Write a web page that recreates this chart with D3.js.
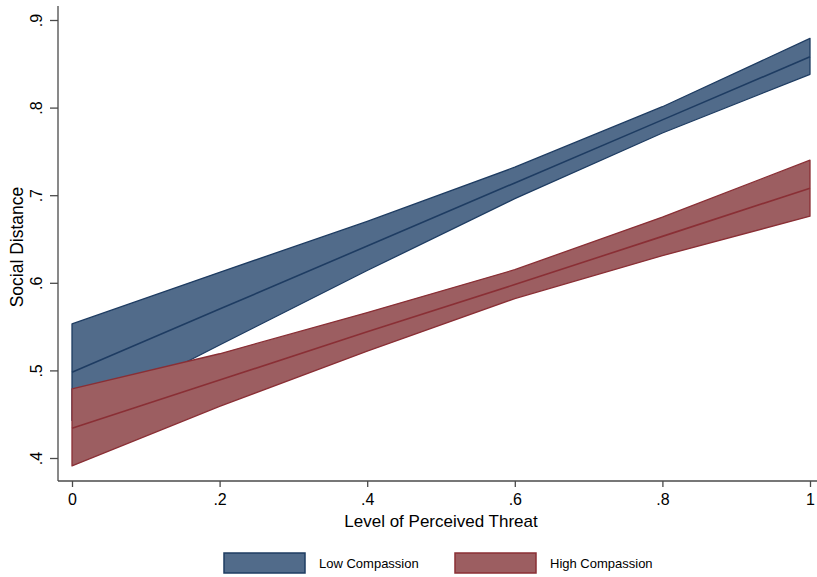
<!DOCTYPE html>
<html>
<head>
<meta charset="utf-8">
<script src="https://cdn.jsdelivr.net/npm/d3@7"></script>
<style>
  html, body { margin: 0; padding: 0; background: #fff; }
  svg { display: block; font-family: "Liberation Sans", Arial, Helvetica, sans-serif; }
</style>
</head>
<body>
<svg id="chart" width="817" height="577"></svg>
<script>
// Predictive margins of social distance by perceived threat
const threat = [0, 0.2, 0.4, 0.6, 0.8, 1];

const lowMean  = [0.498, 0.570, 0.642, 0.714, 0.786, 0.858];
const lowUpper = [0.553, 0.612, 0.670, 0.732, 0.801, 0.879];
const lowLower = [0.443, 0.529, 0.614, 0.696, 0.771, 0.838];

const highMean  = [0.434, 0.489, 0.544, 0.598, 0.653, 0.708];
const highUpper = [0.479, 0.519, 0.566, 0.615, 0.675, 0.740];
const highLower = [0.391, 0.459, 0.522, 0.582, 0.631, 0.676];

const xTicks = [0, 0.2, 0.4, 0.6, 0.8, 1];
const yTicks = [0.4, 0.5, 0.6, 0.7, 0.8, 0.9];

const seriesNames = ["Low Compassion", "High Compassion"];

const styles = [
  { fill: "#516b8a", stroke: "#1e3c62" },
  { fill: "#9c5e61", stroke: "#8a2f35" }
];

const svg = d3.select("#chart");

const x = d3.scaleLinear().domain([0, 1]).range([72, 810]);
const y = d3.scaleLinear().domain([0.4, 0.9]).range([458, 20]);

// plot region edges
const plotLeft = 58, plotRight = 817, plotTop = 6, plotBottom = 481;

const fmt = d => d === 0 ? "0" : d === 1 ? "1" : d3.format(".1f")(d).replace(/^0/, "");

const series = [
  { name: seriesNames[0], mean: lowMean, upper: lowUpper, lower: lowLower, style: styles[0] },
  { name: seriesNames[1], mean: highMean, upper: highUpper, lower: highLower, style: styles[1] }
];

const area = d3.area()
  .x(d => x(d.t))
  .y0(d => y(d.lo))
  .y1(d => y(d.hi));

const line = d3.line()
  .x(d => x(d.t))
  .y(d => y(d.m));

const g = svg.append("g");

series.forEach(s => {
  s.pts = threat.map((t, i) => ({ t, lo: s.lower[i], hi: s.upper[i], m: s.mean[i] }));
  g.append("path")
    .datum(s.pts)
    .attr("d", area)
    .attr("fill", s.style.fill)
    .attr("stroke", s.style.stroke)
    .attr("stroke-width", 1.3)
    .attr("stroke-linejoin", "round");
});

series.forEach(s => {
  g.append("path")
    .datum(s.pts)
    .attr("d", line)
    .attr("fill", "none")
    .attr("stroke", s.style.stroke)
    .attr("stroke-width", 1.6);
});

// axes
const axisColor = "#4a4a4a";

const xAxis = svg.append("g")
  .attr("transform", `translate(0,${plotBottom})`)
  .call(d3.axisBottom(x).tickValues(xTicks).tickFormat(fmt).tickSize(6).tickSizeOuter(0));
xAxis.select(".domain").remove();
xAxis.append("line").attr("x1", plotLeft).attr("x2", plotRight).attr("stroke", axisColor).attr("stroke-width", 1.3);
xAxis.selectAll(".tick line").attr("stroke", axisColor).attr("stroke-width", 1.3);
xAxis.selectAll(".tick text")
  .attr("fill", "#000")
  .attr("font-size", 16)
  .attr("font-family", "Liberation Sans, Arial, sans-serif")
  .attr("dy", "0.95em");

const yAxis = svg.append("g")
  .attr("transform", `translate(${plotLeft},0)`)
  .call(d3.axisLeft(y).tickValues(yTicks).tickFormat(fmt).tickSize(8).tickSizeOuter(0));
yAxis.select(".domain").remove();
yAxis.append("line").attr("y1", plotTop).attr("y2", plotBottom).attr("stroke", axisColor).attr("stroke-width", 1.3);
yAxis.selectAll(".tick line").attr("stroke", axisColor).attr("stroke-width", 1.3);
yAxis.selectAll(".tick text")
  .attr("fill", "#000")
  .attr("font-size", 16)
  .attr("font-family", "Liberation Sans, Arial, sans-serif")
  .attr("x", null).attr("dy", null)
  .attr("text-anchor", "middle")
  .attr("transform", "translate(-16,0) rotate(-90)");

// axis titles
svg.append("text")
  .attr("x", 441)
  .attr("y", 527)
  .attr("text-anchor", "middle")
  .attr("font-size", 17)
  .text("Level of Perceived Threat");

svg.append("text")
  .attr("transform", "translate(22.5,247) rotate(-90)")
  .attr("text-anchor", "middle")
  .attr("font-size", 17.5)
  .text("Social Distance");

// legend
const legend = svg.append("g").attr("transform", "translate(224,553)");
const legendX = [0, 231];
series.forEach((s, i) => {
  const item = legend.append("g").attr("transform", `translate(${legendX[i]},0)`);
  item.append("rect")
    .attr("width", 81).attr("height", 20)
    .attr("fill", s.style.fill)
    .attr("stroke", s.style.stroke)
    .attr("stroke-width", 1.5);
  item.append("text")
    .attr("x", 95).attr("y", 15)
    .attr("font-size", 13)
    .text(s.name);
});
</script>
</body>
</html>
